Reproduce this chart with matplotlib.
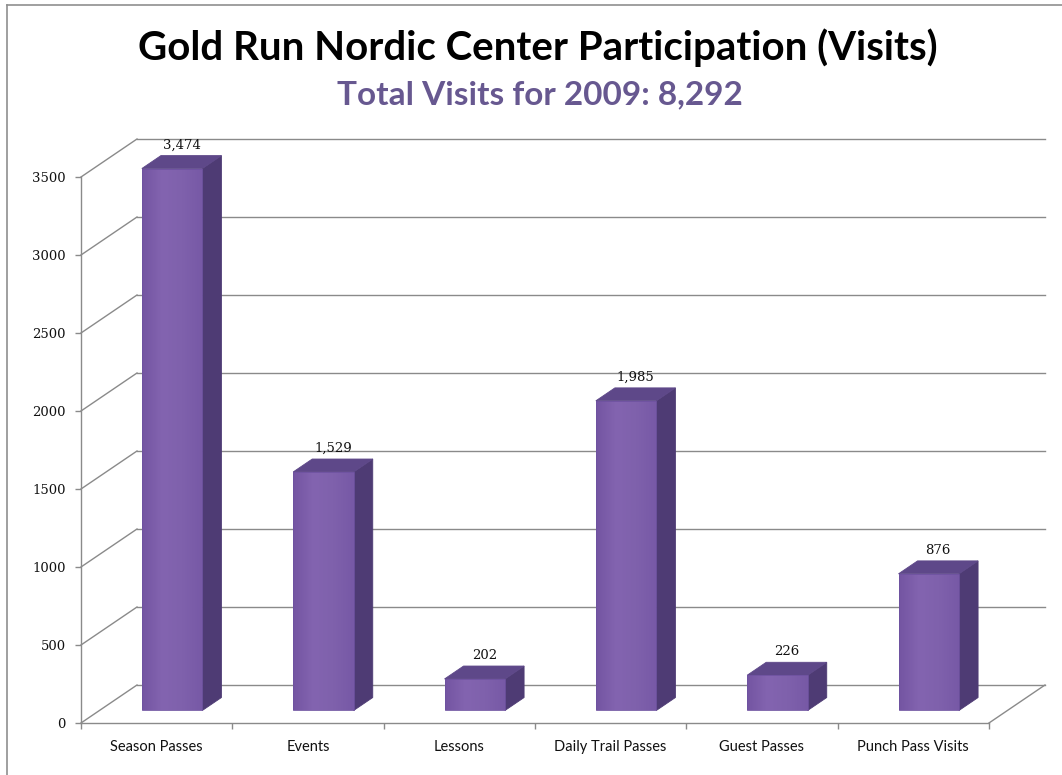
import matplotlib
matplotlib.use("Agg")
import numpy as np
import matplotlib.pyplot as plt
from matplotlib.patches import Polygon
from matplotlib.lines import Line2D
from matplotlib.colors import LinearSegmentedColormap
from matplotlib.ticker import FixedLocator, NullFormatter

categories = ["Season Passes", "Events", "Lessons", "Daily Trail Passes",
              "Guest Passes", "Punch Pass Visits"]
visits = [3474, 1529, 202, 1985, 226, 876]
y_ticks = [0, 500, 1000, 1500, 2000, 2500, 3000, 3500]
title = "Gold Run Nordic Center Participation (Visits)"
subtitle = "Total Visits for 2009: 8,292"

W, H = 1062, 775
fig = plt.figure(figsize=(W / 100, H / 100), dpi=100)
fig.patch.set_facecolor("white")

# front plane of the 3-D box, in pixels
x0_px, y0_px = 81, 723
cat_px = 151.33          # width of one category
val_px = 0.156           # pixels per visit
depth_px = (56, 38)      # receding offset of the back wall

DX = depth_px[0] / cat_px
DY = depth_px[1] / val_px
xmax, ymax = 6.45, 3800
ax = fig.add_axes([x0_px / W, (H - y0_px) / H,
                   xmax * cat_px / W, ymax * val_px / H])
ax.set_xlim(0, xmax)
ax.set_ylim(0, ymax)
ax.patch.set_visible(False)

grid_c = "#8a8a8a"
axis_c = "#8a8a8a"

# axes spines / ticks
for s in ("top", "right"):
    ax.spines[s].set_visible(False)
ax.spines["left"].set_bounds(0, y_ticks[-1])
ax.spines["bottom"].set_bounds(0, len(categories))
for s in ("left", "bottom"):
    ax.spines[s].set_color(axis_c)
    ax.spines[s].set_linewidth(1.0)

ax.set_yticks(y_ticks)
ax.set_yticklabels([str(t) for t in y_ticks], family="DejaVu Serif",
                   fontsize=9.5, color="#111111")
ax.tick_params(axis="y", length=4, width=1, color=axis_c, pad=7)

ax.xaxis.set_major_locator(FixedLocator(range(len(categories) + 1)))
ax.xaxis.set_major_formatter(NullFormatter())
ax.xaxis.set_minor_locator(FixedLocator([i + 0.5 for i in range(len(categories))]))
ax.set_xticklabels(categories, minor=True, family="Lato", fontsize=10.5,
                   color="#111111")
ax.tick_params(axis="x", which="major", length=4, width=1, color=axis_c)
ax.tick_params(axis="x", which="minor", length=0, pad=12)

# back wall gridlines with their receding diagonals
ncat = len(categories)
for t in y_ticks:
    ax.plot([0, DX], [t, t + DY], color=grid_c, lw=1.0, clip_on=False, zorder=1)
    ax.plot([DX, ncat + DX], [t + DY, t + DY], color=grid_c, lw=1.0,
            clip_on=False, zorder=1)
# right edge of the floor
ax.plot([ncat, ncat + DX], [0, DY], color=grid_c, lw=1.0, clip_on=False, zorder=1)

# 3-D bars
front_cmap = LinearSegmentedColormap.from_list(
    "front", ["#7455A2", "#8364B0", "#7F61AC", "#7759A6"])
top_c = "#5E4889"
side_c = "#4E3B74"
d0, d1 = 0.33, 0.67
bw = 0.40
shade = np.linspace(0, 1, 64).reshape(1, -1)
for i, v in enumerate(visits):
    c = i + 0.5 - 0.02
    ox, oy = d0 * DX, d0 * DY
    ddx, ddy = (d1 - d0) * DX, (d1 - d0) * DY
    xl, xr = c - bw / 2 + ox, c + bw / 2 + ox
    yb, yt = oy, oy + v
    side = Polygon([(xr, yb), (xr + ddx, yb + ddy), (xr + ddx, yt + ddy), (xr, yt)],
                   closed=True, facecolor=side_c, edgecolor=side_c, lw=0.6, zorder=3)
    top = Polygon([(xl, yt), (xr, yt), (xr + ddx, yt + ddy), (xl + ddx, yt + ddy)],
                  closed=True, facecolor=top_c, edgecolor=top_c, lw=0.6, zorder=3)
    front = Polygon([(xl, yb), (xr, yb), (xr, yt), (xl, yt)],
                    closed=True, facecolor="none", edgecolor="#6E52A0", lw=0.6, zorder=5)
    for p in (side, top, front):
        p.set_clip_on(False)
        ax.add_patch(p)
    grad = ax.imshow(shade, cmap=front_cmap, extent=(xl, xr, yb, yt),
                     aspect="auto", interpolation="bilinear", zorder=4)
    grad.set_clip_path(front)
    ax.annotate(f"{v:,}", ((xl + xr) / 2 + ddx / 2, yt + ddy), xytext=(0, 3),
                textcoords="offset points", ha="center", va="bottom",
                family="DejaVu Serif", fontsize=9.5, color="#111111",
                annotation_clip=False, zorder=6)
ax.set_xlim(0, xmax)
ax.set_ylim(0, ymax)

# titles
fig.text(0.506, 1 - 48 / H, title, ha="center", va="center", family="Lato",
         weight="bold", fontsize=29, color="black")
fig.text(0.508, 1 - 95 / H, subtitle, ha="center", va="center", family="Lato",
         weight="bold", fontsize=24, color="#675890")

# slide frame
fig.add_artist(Line2D([7 / W, 1], [1 - 5 / H, 1 - 5 / H], color="#8f8f8f", lw=1.2))
fig.add_artist(Line2D([7 / W, 7 / W], [1 - 5 / H, 0], color="#8f8f8f", lw=1.2))

fig.savefig("out.png", dpi=100, facecolor="white")
